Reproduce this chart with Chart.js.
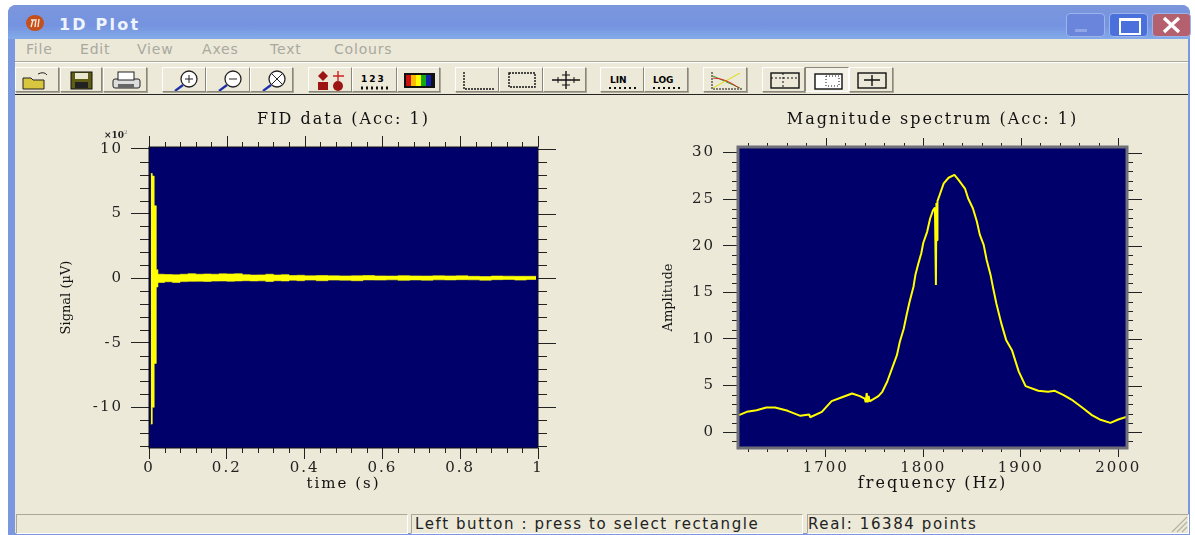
<!DOCTYPE html>
<html>
<head>
<meta charset="utf-8">
<title>1D Plot</title>
<script src="https://cdn.jsdelivr.net/npm/chart.js@4/dist/chart.umd.min.js"></script>
<style>
    html, body { margin: 0; padding: 0; background: #fff; overflow: hidden; }
    #page { position: relative; width: 1195px; height: 535px; background: #fff; overflow: hidden; filter: blur(0.5px); }
    #win { position: absolute; left: 8px; top: 5px; width: 1182px; height: 530px; background: #7b97e0; border-radius: 8px 8px 0 0; }
    #titlebar { position: absolute; left: 8px; top: 5px; width: 1182px; height: 34px; border-radius: 8px 8px 0 0;
        background: linear-gradient(#7b96dc 0%, #7593e0 60%, #83abe9 100%); }
    #body { position: absolute; left: 15px; top: 39px; width: 1173px; height: 494px; background: #ece9d8; }
    .abs { position: absolute; white-space: pre; }
    #apptitle { left: 59px; top: 15px; font: bold 16px "DejaVu Sans"; letter-spacing: 2.2px; color: #eef3fc; }
    .menu { top: 41px; font: 14px "DejaVu Sans"; letter-spacing: 0.8px; color: #a9a89f; }
    .status { top: 515px; font: 15px "DejaVu Sans"; letter-spacing: 1.6px; color: #222; }
    .pane { position: absolute; top: 514px; height: 18px; border: 1px solid; border-color: #aca899 #fff #fff #aca899; }
    .wbtn { position: absolute; top: 13px; width: 37px; height: 22px; border-radius: 4px; border: 1px solid #9db4ea; }
    canvas { position: absolute; }
    #exp { left: 104px; top: 129px; font: bold 9px "DejaVu Serif"; color: #222; }
    #exp sup { font-size: 5px; color: #999; }
</style>
</head>
<body>
<div id="page">
    <div id="win"></div>
    <div id="titlebar"></div>
    <div id="body"></div>

    <svg class="abs" style="left:25px;top:13px" width="20" height="20">
        <ellipse cx="10" cy="10" rx="9" ry="8" fill="#c5501c"/>
        <path d="M6 7h4M8 7l-2 7M11 6l-1 8M14 6l-1 8" stroke="#f6e6d8" stroke-width="1.4" fill="none"/>
    </svg>
    <div class="abs" id="apptitle">1D Plot</div>

    <div class="wbtn" style="left:1066px;background:#6a85dc"><div style="position:absolute;left:8px;top:15px;width:12px;height:3px;background:#8fa5e6"></div></div>
    <div class="wbtn" style="left:1109px;background:#4a70dc"><div style="position:absolute;left:9px;top:4px;width:18px;height:12px;border:2px solid #fff;border-top-width:3px"></div></div>
    <div class="wbtn" style="left:1152px;background:#b4606e">
        <svg width="37" height="22"><path d="M11 4L26 18M26 4L11 18" stroke="#fff" stroke-width="3.4"/></svg>
    </div>

    <div class="abs menu" style="left:26px">File</div>
    <div class="abs menu" style="left:80px">Edit</div>
    <div class="abs menu" style="left:137px">View</div>
    <div class="abs menu" style="left:202px">Axes</div>
    <div class="abs menu" style="left:270px">Text</div>
    <div class="abs menu" style="left:334px">Colours</div>

    <div class="abs" style="left:15px;top:61px;width:1173px;height:1px;background:#aca899"></div>
    <div class="abs" style="left:15px;top:62px;width:1173px;height:1px;background:#fff"></div>
    <div class="abs" style="left:15px;top:94px;width:1173px;height:1px;background:#222"></div>
    <div id="toolbar"></div>

    <canvas id="fidChart" style="left:56px;top:110px" width="514" height="386"></canvas>
    <canvas id="specChart" style="left:656px;top:110px" width="514" height="386"></canvas>
    <div class="abs" id="exp">×10<sup>2</sup></div>

    <div class="pane" style="left:16px;width:390px"></div>
    <div class="pane" style="left:411px;width:390px"></div>
    <div class="pane" style="left:807px;width:380px"></div>
    <div class="abs status" style="left:415px">Left button : press to select rectangle</div>
    <div class="abs status" style="left:808px">Real: 16384 points</div>
    <svg class="abs" style="left:1170px;top:514px" width="18" height="19">
        <path d="M17 3L2 18M17 8L7 18M17 13L12 18" stroke="#b5b2a2" stroke-width="1.2"/>
    </svg>
</div>

<script>
// FID envelope
const fidTime = [0.0044, 0.0085, 0.0134, 0.0188, 0.023, 0.04, 0.06, 0.08, 0.1, 0.12, 0.14, 0.16, 0.18, 0.2, 0.22, 0.24, 0.26, 0.28, 0.3, 0.32, 0.34, 0.36, 0.38, 0.4, 0.43, 0.46, 0.49, 0.52, 0.55, 0.58, 0.61, 0.64, 0.67, 0.7, 0.73, 0.76, 0.79, 0.82, 0.85, 0.88, 0.91, 0.94, 0.97, 0.995];
const fidUpper = [8.1, 7.9, 5.6, 0.65, 0.3, 0.28, 0.26, 0.3, 0.34, 0.3, 0.32, 0.3, 0.33, 0.32, 0.34, 0.27, 0.24, 0.25, 0.3, 0.24, 0.27, 0.2, 0.22, 0.18, 0.2, 0.18, 0.17, 0.18, 0.2, 0.17, 0.16, 0.19, 0.17, 0.16, 0.18, 0.17, 0.18, 0.14, 0.12, 0.16, 0.15, 0.14, 0.14, 0.13];
const fidLower = [-11.3, -10.0, -6.6, -0.68, -0.34, -0.28, -0.33, -0.27, -0.25, -0.24, -0.26, -0.23, -0.22, -0.24, -0.22, -0.2, -0.22, -0.21, -0.26, -0.2, -0.22, -0.16, -0.2, -0.15, -0.2, -0.15, -0.16, -0.2, -0.14, -0.15, -0.13, -0.17, -0.14, -0.16, -0.13, -0.14, -0.12, -0.13, -0.16, -0.12, -0.11, -0.15, -0.11, -0.12];

// magnitude spectrum
const specFreq = [1611, 1619, 1629, 1639, 1648, 1661, 1674, 1683, 1684, 1696, 1706, 1716, 1727, 1735, 1740, 1741, 1742, 1743, 1744, 1745, 1754, 1758, 1763, 1768, 1773, 1776, 1780, 1783, 1786, 1790, 1792, 1795, 1798, 1800, 1804, 1807, 1810, 1812, 1813, 1813.5, 1814.2, 1814.6, 1817, 1821, 1826, 1832, 1836, 1843, 1846, 1851, 1855, 1858, 1862, 1865, 1869, 1872, 1875, 1880, 1885, 1891, 1898, 1905, 1918, 1928, 1935, 1944, 1952, 1963, 1973, 1981, 1992, 2000, 2009];
const specAmp = [1.83, 2.18, 2.36, 2.65, 2.65, 2.29, 1.75, 1.9, 1.6, 2.18, 3.33, 3.72, 4.15, 3.87, 3.6, 3.2, 4.2, 3.2, 3.9, 3.3, 3.87, 4.33, 5.41, 6.84, 8.27, 9.7, 11.1, 12.6, 14, 15.6, 16.9, 18.1, 19.2, 20.3, 21.5, 22.9, 23.8, 24.1, 15.8, 24.6, 20.6, 24.8, 25.5, 26.7, 27.3, 27.6, 27.1, 26.1, 25.1, 24, 22.6, 21.2, 20.1, 18.5, 16.9, 15.3, 13.8, 11.7, 9.9, 8.8, 6.5, 4.94, 4.44, 4.33, 4.44, 3.97, 3.5, 2.65, 1.83, 1.36, 1.0, 1.36, 1.65];

// tick lists
const fidXMajor = [0, 0.2, 0.4, 0.6, 0.8, 1];
const fidXMinor = [0.04, 0.08, 0.12, 0.16, 0.24, 0.28, 0.32, 0.36, 0.44, 0.48, 0.52, 0.56, 0.64, 0.68, 0.72, 0.76, 0.84, 0.88, 0.92, 0.96];
const fidYMajor = [-10, -5, 0, 5, 10];
const fidYMinor = [-13, -12, -11, -9, -8, -7, -6, -4, -3, -2, -1, 1, 2, 3, 4, 6, 7, 8, 9];
const specXMajor = [1700, 1800, 1900, 2000];
const specXMinor = [1620, 1640, 1660, 1680, 1720, 1740, 1760, 1780, 1820, 1840, 1860, 1880, 1920, 1940, 1960, 1980];
const specYMajor = [0, 5, 10, 15, 20, 25, 30];
const specYMinor = [-1, 1, 2, 3, 4, 6, 7, 8, 9, 11, 12, 13, 14, 16, 17, 18, 19, 21, 22, 23, 24, 26, 27, 28, 29];

const navy = "#00006a";
const yellow = "#ffff00";
const serif = "'DejaVu Serif'";

// plot background, frame and the ticks the axes do not draw themselves
function framePlugin(cfg) {
    return {
        id: "frame",
        beforeDraw(chart) {
            const a = chart.chartArea, c = chart.ctx;
            c.letterSpacing = "2px";
            // the rotated y title is squeezed in the reference, so no spacing there
            const sy = chart.scales.y;
            if (!sy._plainTitle) {
                const drawTitle = sy.drawTitle;
                sy.drawTitle = function () {
                    c.letterSpacing = "0px";
                    drawTitle.call(this);
                    c.letterSpacing = "2px";
                };
                sy._plainTitle = true;
            }
            c.fillStyle = navy;
            c.fillRect(a.left, a.top, a.width, a.height);
        },
        afterDraw(chart) {
            const a = chart.chartArea, c = chart.ctx;
            const sx = chart.scales.x, sy = chart.scales.y;
            c.save();
            c.strokeStyle = "#222";
            c.lineWidth = 1;
            c.beginPath();
            cfg.xMinor.forEach(v => {
                const p = Math.round(sx.getPixelForValue(v)) + 0.5;
                c.moveTo(p, a.bottom); c.lineTo(p, a.bottom + cfg.xMinorLen);
                c.moveTo(p, a.top); c.lineTo(p, a.top - cfg.xMinorLen);
            });
            cfg.xMajor.forEach(v => {
                const p = Math.round(sx.getPixelForValue(v)) + 0.5;
                c.moveTo(p, a.top); c.lineTo(p, a.top - cfg.xMajorLen);
            });
            cfg.yMinor.forEach(v => {
                const p = Math.round(sy.getPixelForValue(v)) + 0.5;
                c.moveTo(a.left, p); c.lineTo(a.left - cfg.yMinorLen, p);
                c.moveTo(a.right, p); c.lineTo(a.right + cfg.yMinorLen, p);
            });
            cfg.yMajor.forEach(v => {
                const p = Math.round(sy.getPixelForValue(v)) + 0.5;
                c.moveTo(a.right, p); c.lineTo(a.right + cfg.yMajorLen, p);
            });
            c.stroke();
            c.strokeStyle = cfg.frame;
            c.lineWidth = cfg.frameWidth;
            c.strokeRect(a.left, a.top, a.width, a.height);
            c.restore();
        }
    };
}

function axis(min, max, majors, title, titleSize, tickLen, pad, titlePad, fit) {
    return {
        type: "linear",
        min: min,
        max: max,
        afterBuildTicks: s => { s.ticks = majors.map(v => ({ value: v })); },
        afterFit: fit,
        border: { display: false },
        grid: { drawOnChartArea: false, tickLength: tickLen, color: "#222", tickColor: "#222" },
        ticks: {
            autoSkip: false, maxRotation: 0, minRotation: 0, padding: pad, color: "#222",
            font: { family: serif, size: 15 },
            callback: v => String(v)
        },
        title: { display: true, text: title, color: "#111", padding: titlePad, font: { family: serif, size: titleSize } }
    };
}

function plotOptions(title, x, y, rightPad) {
    return {
        responsive: false,
        animation: false,
        events: [],
        layout: { autoPadding: false, padding: { left: 0, right: rightPad, top: 0, bottom: 0 } },
        plugins: {
            legend: { display: false },
            tooltip: { enabled: false },
            title: {
                display: true, text: title, color: "#111", fullSize: false,
                font: { family: serif, size: 16, weight: "normal" },
                padding: { top: 0.4, bottom: 17.4 }
            }
        },
        scales: { x: x, y: y }
    };
}

new Chart(document.getElementById("fidChart"), {
    type: "line",
    data: {
        labels: fidTime,
        datasets: [
            { data: fidTime.map((t, i) => ({ x: t, y: fidUpper[i] })), borderColor: yellow, backgroundColor: yellow, borderWidth: 0.6, pointRadius: 0, stepped: "before", fill: "+1" },
            { data: fidTime.map((t, i) => ({ x: t, y: fidLower[i] })), borderColor: yellow, borderWidth: 0.6, pointRadius: 0, stepped: "before", fill: false }
        ]
    },
    options: plotOptions("FID data (Acc: 1)",
        axis(0, 1, fidXMajor, "time (s)", 15, 11, 0, { top: 0, bottom: 3 }, s => { s.height = 48; }),
        axis(-13.15, 10.15, fidYMajor, "Signal (\u00b5V)", 13, 18, 8, { top: 3, bottom: 0 }, s => { s.width = 93; }),
        32),
    plugins: [framePlugin({
        xMajor: fidXMajor, xMinor: fidXMinor, yMajor: fidYMajor, yMinor: fidYMinor,
        xMajorLen: 11, xMinorLen: 5, yMajorLen: 18, yMinorLen: 9, frame: "#111", frameWidth: 1
    })]
});

new Chart(document.getElementById("specChart"), {
    type: "line",
    data: {
        labels: specFreq,
        datasets: [
            { data: specFreq.map((f, i) => ({ x: f, y: specAmp[i] })), borderColor: yellow, borderWidth: 2, borderJoinStyle: "bevel", pointRadius: 0, tension: 0, fill: false }
        ]
    },
    options: plotOptions("Magnitude spectrum (Acc: 1)",
        axis(1610, 2009, specXMajor, "frequency (Hz)", 16, 9, 2, { top: 0, bottom: 3 }, s => { s.height = 48; }),
        axis(-1.7, 30.6, specYMajor, "Amplitude", 13, 15, 8, { top: 5, bottom: 0 }, s => { s.width = 82; }),
        43),
    plugins: [framePlugin({
        xMajor: specXMajor, xMinor: specXMinor, yMajor: specYMajor, yMinor: specYMinor,
        xMajorLen: 9, xMinorLen: 4, yMajorLen: 15, yMinorLen: 6, frame: "#6f6f78", frameWidth: 3
    })]
});

// toolbar buttons: [left, right, icon markup]
const zoomLens = inner => `<circle cx="26" cy="11" r="8" fill="#fff" stroke="#222" stroke-width="1.3"/>${inner}<path d="M20 17L12 23" stroke="#1c2fa8" stroke-width="2.2"/>`;
const rulerBox = '<rect x="9" y="5" width="26" height="14" fill="none" stroke="#111" stroke-width="1.4" stroke-dasharray="2 1"/>';
const buttons = [
    [15, 59, '<path d="M7 10h8l2 2h11v9H7z" fill="#d9c63f" stroke="#222"/><path d="M22 6q6-3 9 1" stroke="#222" fill="none"/>'],
    [60, 102, '<rect x="10" y="4" width="21" height="17" fill="#5f5c16" stroke="#111"/><rect x="14" y="5" width="13" height="6" fill="#e9e7d0"/><rect x="14" y="14" width="13" height="6" fill="#222"/>'],
    [103, 147, '<rect x="9" y="11" width="27" height="9" rx="2" fill="#ddd" stroke="#222"/><rect x="14" y="4" width="16" height="8" fill="#fff" stroke="#222"/><rect x="14" y="16" width="16" height="4" fill="#666"/>'],
    [162, 206, zoomLens('<path d="M22 11h8M26 7v8" stroke="#222"/>')],
    [206, 250, zoomLens('<path d="M22 11h8" stroke="#222"/>')],
    [250, 293, zoomLens('<path d="M21 6l10 10M31 6L21 16" stroke="#222"/>')],
    [308, 352, '<rect x="9" y="14" width="10" height="8" fill="#9c1414"/><circle cx="29" cy="18" r="5" fill="#9c1414"/><path d="M14 3l5 5-5 5-5-5z" fill="#9c1414"/><path d="M24 8h11M29 3v10" stroke="#c22" stroke-width="1.4"/>'],
    [352, 397, '<text x="8" y="14" font-family="DejaVu Sans" font-weight="bold" font-size="9" letter-spacing="2">123</text><path d="M8 20h28" stroke="#111" stroke-dasharray="2 3" stroke-width="3"/>'],
    [397, 440, '<rect x="6" y="5" width="31" height="15" fill="#111"/><rect x="8" y="7" width="5" height="11" fill="#c11"/><rect x="13" y="7" width="5" height="11" fill="#fb0"/><rect x="18" y="7" width="5" height="11" fill="#ff0"/><rect x="23" y="7" width="5" height="11" fill="#1a1"/><rect x="28" y="7" width="5" height="11" fill="#12a"/>'],
    [455, 499, '<path d="M8 4v17h30" fill="none" stroke="#111" stroke-width="1.4" stroke-dasharray="2 1"/>'],
    [499, 543, rulerBox],
    [543, 586, '<path d="M8 12h28M22 3v18" stroke="#111" stroke-width="1.4"/><path d="M14 9v6M30 9v6M18 7h8M18 17h8" stroke="#111"/>'],
    [600, 644, '<text x="9" y="15" font-family="DejaVu Sans" font-weight="bold" font-size="9">LIN</text><path d="M8 20h28" stroke="#111" stroke-dasharray="2 3" stroke-width="2"/>'],
    [644, 688, '<text x="8" y="15" font-family="DejaVu Sans" font-weight="bold" font-size="9">LOG</text><path d="M8 20h28" stroke="#111" stroke-dasharray="2 3" stroke-width="2"/>'],
    [703, 747, '<path d="M8 4v17h30" fill="none" stroke="#111" stroke-dasharray="2 1"/><path d="M9 8L36 20" stroke="#2a2"/><path d="M9 20L36 5" stroke="#dd0"/><path d="M9 10q12 0 26 10" stroke="#d22" fill="none"/>'],
    [762, 805, '<rect x="8" y="5" width="28" height="15" fill="none" stroke="#111" stroke-width="1.4"/><path d="M8 10h28M20 5v15" stroke="#111" stroke-dasharray="2 2"/>'],
    [805, 849, '<rect x="9" y="6" width="27" height="15" fill="#fff" stroke="#111" stroke-width="1.4"/><rect x="20" y="8" width="13" height="10" fill="none" stroke="#111" stroke-dasharray="1 2"/>'],
    [849, 893, '<rect x="8" y="5" width="28" height="15" fill="none" stroke="#111" stroke-width="1.4"/><path d="M14 12h16M22 7v11" stroke="#111" stroke-width="1.4"/>']
];

document.getElementById("toolbar").innerHTML = buttons.map((b, i) => {
    const w = b[1] - b[0];
    const pressed = i === 16;
    const edge = pressed
        ? "border:1px solid;border-color:#8a8778 #fff #fff #8a8778;background:#f4f2e8"
        : "border:1px solid;border-color:#fff #8a8778 #8a8778 #fff;box-shadow:1px 1px 0 #aca899;background:#ece9d8";
    return `<div class="abs" style="left:${b[0]}px;top:67px;width:${w - 2}px;height:23px;${edge}">` +
        `<svg width="${w - 2}" height="23">${b[2]}</svg></div>`;
}).join("");
</script>
</body>
</html>
